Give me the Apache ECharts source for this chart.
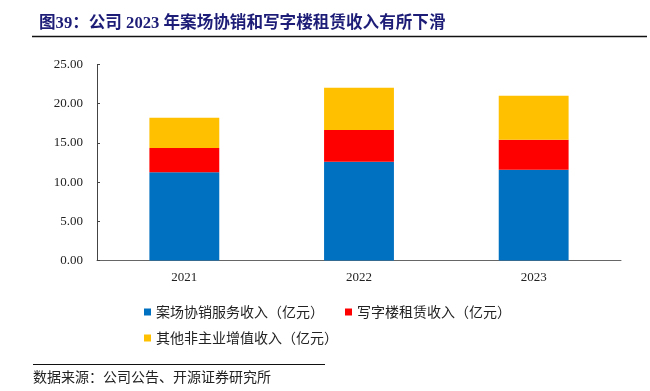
<!DOCTYPE html>
<html><head><meta charset="utf-8">
<script src="https://cdn.jsdelivr.net/npm/echarts@6/dist/echarts.min.js"></script>
<style>html,body{margin:0;padding:0;background:#fff}#c{width:650px;height:391px}</style>
</head><body><div id="c"></div>
<script>
const categories = ['2021', '2022', '2023'];
const seriesNames = ['案场协销服务收入（亿元）', '写字楼租赁收入（亿元）', '其他非主业增值收入（亿元）'];
const salesService = [11.27, 12.59, 11.57];
const officeRent = [3.07, 4.04, 3.83];
const otherIncome = [3.86, 5.40, 5.60];
const yTicks = [0, 5, 10, 15, 20, 25];
const colors = ['#0070C0', '#FF0000', '#FFC000'];

const serif = '"Liberation Serif", "Noto Sans CJK SC", serif';
const cjk = '"Noto Sans CJK SC", sans-serif';
const chart = echarts.init(document.getElementById('c'), null, {renderer: 'canvas'});
const values = [salesService, officeRent, otherIncome];
chart.setOption({
  animation: false,
  title: {
    text: '图39：公司 2023 年案场协销和写字楼租赁收入有所下滑',
    left: 34, top: 10,
    textStyle: {fontFamily: serif, fontWeight: 'bold', fontSize: 16.6, color: '#1d1d78'}
  },
  graphic: [
    {type: 'line', shape: {x1: 32, y1: 36.5, x2: 647, y2: 36.5}, style: {stroke: '#111', lineWidth: 1.5}},
    {type: 'line', shape: {x1: 33, y1: 364.5, x2: 325, y2: 364.5}, style: {stroke: '#111', lineWidth: 1}},
    {type: 'text', left: 33, top: 370, style: {text: '数据来源：公司公告、开源证券研究所', font: '14px ' + cjk, fill: '#222'}}
  ],
  legend: [
    {data: [seriesNames[0], seriesNames[1]], left: 139, top: 300, icon: 'rect', itemWidth: 7, itemHeight: 7, itemGap: 21,
     textStyle: {fontFamily: cjk, fontSize: 14, color: '#222'}},
    {data: [seriesNames[2]], left: 139, top: 326, icon: 'rect', itemWidth: 7, itemHeight: 7,
     textStyle: {fontFamily: cjk, fontSize: 14, color: '#222'}}
  ],
  grid: {left: 97, right: 29, top: 64.5, bottom: 130.5, containLabel: false},
  xAxis: {
    type: 'category', data: categories,
    axisLine: {lineStyle: {color: '#666', width: 1}},
    axisTick: {inside: true, length: 4, lineStyle: {color: '#666'}},
    axisLabel: {fontFamily: serif, fontSize: 13, color: '#222', margin: 11}
  },
  yAxis: {
    type: 'value', min: yTicks[0], max: yTicks[yTicks.length - 1], interval: 5,
    splitLine: {show: false},
    axisLine: {show: true, lineStyle: {color: '#444', width: 1}},
    axisTick: {show: true, inside: true, length: 3, lineStyle: {color: '#444'}},
    axisLabel: {fontFamily: serif, fontSize: 13, color: '#222', margin: 14, formatter: v => v.toFixed(2)}
  },
  series: seriesNames.map((n, i) => ({
    name: n, type: 'bar', stack: 'total', data: values[i], barWidth: '40%',
    itemStyle: {color: colors[i]}
  }))
});
</script></body></html>
